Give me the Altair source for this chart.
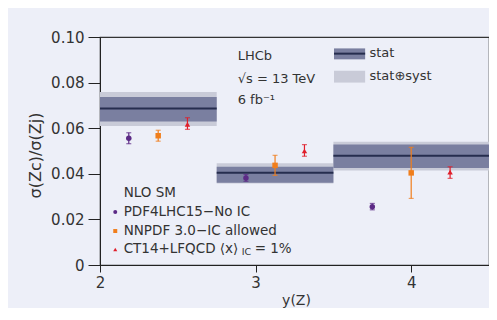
import altair as alt
import pandas as pd

# measured bins
bin_lo = [2.0, 2.75, 3.5]
bin_hi = [2.75, 3.5, 4.5]
meas = [0.0686, 0.0405, 0.0479]
stat_lo = [0.0629, 0.0361, 0.0425]
stat_hi = [0.0737, 0.0431, 0.0528]
syst_lo = [0.0610, 0.0357, 0.0414]
syst_hi = [0.0759, 0.0446, 0.0541]

# NLO SM predictions
models = ["PDF4LHC15\u2212No IC", "NNPDF 3.0\u2212IC allowed", "CT14+LFQCD"]
pdf_x = [2.185, 2.938, 3.75]
pdf_y = [0.0556, 0.0382, 0.0256]
pdf_lo = [0.0532, 0.0367, 0.0242]
pdf_hi = [0.0580, 0.0397, 0.0270]
nn_x = [2.374, 3.125, 4.0]
nn_y = [0.0567, 0.0437, 0.0404]
nn_lo = [0.0543, 0.0393, 0.0292]
nn_hi = [0.0591, 0.0481, 0.0516]
ct_x = [2.562, 3.314, 4.25]
ct_y = [0.0617, 0.0500, 0.0407]
ct_lo = [0.0595, 0.0477, 0.0380]
ct_hi = [0.0646, 0.0528, 0.0431]

x_ticks = [2, 3, 4]
y_ticks = [0, 0.02, 0.04, 0.06, 0.08, 0.10]

BG = "#edeff8"
STAT = "#7a7fa0"
SYST = "#c9cbd8"
LINE = "#262d4e"
colors = ["#5c2a86", "#f07e1c", "#e01e2a"]
shapes = ["circle", "square", "triangle-up"]
FONT = "DejaVu Sans"

bins = pd.DataFrame({"lo": bin_lo, "hi": bin_hi, "m": meas,
                     "slo": stat_lo, "shi": stat_hi, "ylo": syst_lo, "yhi": syst_hi})

rows = []
for name, xs_, ys_, lo_, hi_ in [(models[0], pdf_x, pdf_y, pdf_lo, pdf_hi),
                                  (models[1], nn_x, nn_y, nn_lo, nn_hi),
                                  (models[2], ct_x, ct_y, ct_lo, ct_hi)]:
    for a, b, c, d in zip(xs_, ys_, lo_, hi_):
        rows.append({"model": name, "x": a, "y": b, "lo": c, "hi": d})
pts = pd.DataFrame(rows)

xs = alt.Scale(domain=[2, 4.5], nice=False, zero=False)
ys = alt.Scale(domain=[0, 0.1], nice=False, zero=False)
cs = alt.Scale(domain=models, range=colors)
ss = alt.Scale(domain=models, range=shapes)

xaxis = alt.Axis(values=x_ticks, format="d", title="y(Z)", grid=False, tickSize=7,
                 labelFontSize=15, titleFontSize=14, labelFont=FONT, titleFont=FONT,
                 labelColor="#333", titleColor="#333", domainColor="#222", tickColor="#222",
                 titleFontWeight="normal", labelPadding=3, titleX=196, titleY=35,
                 titleBaseline="middle", titleAlign="center", labelFlush=False)
yaxis = alt.Axis(values=y_ticks, title="\u03c3(Zc)/\u03c3(Zj)", grid=False, tickSize=12,
                 labelExpr="datum.value == 0 ? '0' : format(datum.value, '.2f')",
                 labelFontSize=15, titleFontSize=16, labelFont=FONT, titleFont=FONT,
                 labelColor="#333", titleColor="#333", domainColor="#222", tickColor="#222",
                 titleFontWeight="normal", labelPadding=4, titleX=-65, titleY=118,
                 titleBaseline="middle", titleAlign="center")

syst = alt.Chart(bins).mark_rect(color=SYST).encode(
    x=alt.X("lo:Q", scale=xs, axis=xaxis), x2="hi:Q",
    y=alt.Y("ylo:Q", scale=ys, axis=yaxis), y2="yhi:Q")
stat = alt.Chart(bins).mark_rect(color=STAT).encode(
    x=alt.X("lo:Q", scale=xs), x2="hi:Q", y=alt.Y("slo:Q", scale=ys), y2="shi:Q")
cline = alt.Chart(bins).mark_rule(color=LINE, strokeWidth=2).encode(
    x=alt.X("lo:Q", scale=xs), x2="hi:Q", y=alt.Y("m:Q", scale=ys))

err = alt.Chart(pts).mark_rule(strokeWidth=1.2).encode(
    x=alt.X("x:Q", scale=xs), y=alt.Y("lo:Q", scale=ys), y2="hi:Q",
    color=alt.Color("model:N", scale=cs, legend=None))
cap_lo = alt.Chart(pts).mark_tick(orient="horizontal", size=5, thickness=1.2).encode(
    x=alt.X("x:Q", scale=xs), y=alt.Y("lo:Q", scale=ys),
    color=alt.Color("model:N", scale=cs, legend=None))
cap_hi = alt.Chart(pts).mark_tick(orient="horizontal", size=5, thickness=1.2).encode(
    x=alt.X("x:Q", scale=xs), y=alt.Y("hi:Q", scale=ys),
    color=alt.Color("model:N", scale=cs, legend=None))
marks = alt.Chart(pts).mark_point(filled=True, size=30, opacity=1).encode(
    x=alt.X("x:Q", scale=xs), y=alt.Y("y:Q", scale=ys),
    color=alt.Color("model:N", scale=cs, legend=None),
    shape=alt.Shape("model:N", scale=ss, legend=None))

# model legend (drawn in data space)
leg_x = [2.098, 2.098, 2.098]
leg_y = [0.0232, 0.0149, 0.0068]
leg_tx = 2.152
leg = pd.DataFrame({"model": models, "x": leg_x, "y": leg_y})
leg_marks = alt.Chart(leg).mark_point(filled=True, size=16, opacity=1).encode(
    x=alt.X("x:Q", scale=xs), y=alt.Y("y:Q", scale=ys),
    color=alt.Color("model:N", scale=cs, legend=None),
    shape=alt.Shape("model:N", scale=ss, legend=None))

def txt(df, size=13.5, **kw):
    return alt.Chart(df).mark_text(align="left", baseline="middle", font=FONT,
                                   fontSize=size, color="#333", **kw).encode(
        x=alt.X("tx:Q", scale=xs), y=alt.Y("ty:Q", scale=ys), text="t:N")

leg_text = txt(pd.DataFrame({"tx": [leg_tx] * 4, "ty": [0.0316] + leg_y,
                             "t": ["NLO SM", "PDF4LHC15\u2212No IC",
                                   "NNPDF 3.0\u2212IC allowed", "CT14+LFQCD \u27e8x\u27e9"]}))
sub_text = txt(pd.DataFrame({"tx": [leg_tx], "ty": [leg_y[2]], "t": ["IC"]}),
               size=9.5, dx=118, dy=3)
eq_text = txt(pd.DataFrame({"tx": [leg_tx], "ty": [leg_y[2]], "t": ["= 1%"]}), dx=131)

lhcb = txt(pd.DataFrame({"tx": [2.885, 2.885, 2.885], "ty": [0.0917, 0.0815, 0.0724],
                         "t": ["LHCb", "\u221as = 13 TeV", "6 fb\u207b\u00b9"]}), size=13)

# stat legend
sw = pd.DataFrame({"a": [3.504], "b": [3.704], "s1": [0.0902], "s2": [0.0950],
                   "sm": [0.0927], "y1": [0.0800], "y2": [0.0852]})
sw_stat = alt.Chart(sw).mark_rect(color=STAT).encode(
    x=alt.X("a:Q", scale=xs), x2="b:Q", y=alt.Y("s1:Q", scale=ys), y2="s2:Q")
sw_line = alt.Chart(sw).mark_rule(color=LINE, strokeWidth=2).encode(
    x=alt.X("a:Q", scale=xs), x2="b:Q", y=alt.Y("sm:Q", scale=ys))
sw_syst = alt.Chart(sw).mark_rect(color=SYST).encode(
    x=alt.X("a:Q", scale=xs), x2="b:Q", y=alt.Y("y1:Q", scale=ys), y2="y2:Q")
sw_text = txt(pd.DataFrame({"tx": [3.732, 3.732], "ty": [0.0932, 0.0829],
                            "t": ["stat", "stat\u2295syst"]}), size=13)

chart = alt.layer(syst, stat, cline, err, cap_lo, cap_hi, marks,
                  leg_marks, leg_text, sub_text, eq_text, lhcb,
                  sw_stat, sw_line, sw_syst, sw_text).properties(
    width=389, height=228,
    autosize=alt.AutoSizeParams(type="none"),
    padding={"left": 92, "top": 29, "right": 0, "bottom": 43},
    background=BG,
).configure_view(stroke="#333", strokeWidth=1.2, fill=BG)

chart.save("out.html", embed_options={"renderer": "svg", "actions": False})
